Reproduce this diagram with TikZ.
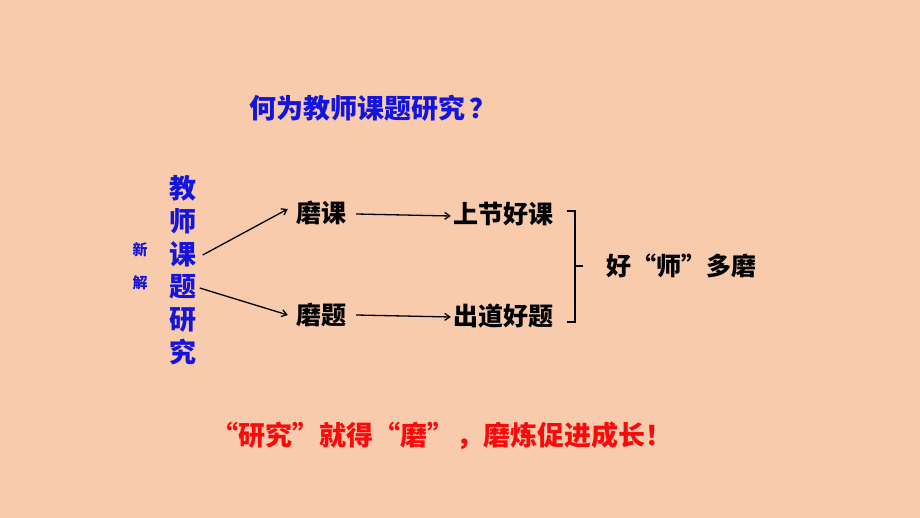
\documentclass[tikz,border=0pt]{standalone}
\usepackage{fontspec}
\setmainfont{Noto Sans CJK SC}
\usetikzlibrary{arrows.meta}
\definecolor{bg}{RGB}{248,203,173}
\definecolor{tblue}{RGB}{20,20,220}
\definecolor{tred}{RGB}{250,10,10}
\tikzset{
  blk/.style={font=\fontsize{25}{28}\selectfont\bfseries, text=black, inner sep=0pt},
  col/.style={font=\fontsize{27}{30}\selectfont\bfseries, text=tblue, inner sep=0pt},
  sml/.style={font=\fontsize{15}{18}\selectfont\bfseries, text=tblue, inner sep=0pt},
  arr/.style={-{Straight Barb[length=5pt,width=7pt]}, line width=1.3pt, black},
  brk/.style={line width=1.5pt, black}
}
\begin{document}
\begin{tikzpicture}[x=1pt,y=-1pt]
\fill[bg] (0,0) rectangle (920,518);
\useasboundingbox (0,0) rectangle (920,518);
\node[font=\fontsize{27}{30}\selectfont\bfseries, text=tblue, inner sep=0pt, anchor=west] (title) at (249,108) {何为教师课题研究\,？};
\node[sml] (x1) at (140,250) {新};
\node[sml] (x2) at (140,283) {解};
\node[col] (c1) at (183,188) {教};
\node[col] (c2) at (183,221) {师};
\node[col] (c3) at (183,254) {课};
\node[col] (c4) at (183,287) {题};
\node[col] (c5) at (183,320) {研};
\node[col] (c6) at (183,352) {究};
\node[blk] (mk) at (321,213) {磨课};
\node[blk] (mt) at (321,315) {磨题};
\node[blk] (sk) at (503,214) {上节好课};
\node[blk] (ct) at (503,316) {出道好题};
\node[blk] (hs) at (681,266) {好“师”多磨};
\node[font=\fontsize{27}{30}\selectfont\bfseries, text=tred, inner sep=0pt, anchor=west] (slogan) at (211,436) {“研究”就得“磨”\hspace{2pt}，磨炼促进成长！};
\draw[arr] ([xshift=6pt,yshift=-1pt]c3.east) -- ([xshift=-8pt,yshift=4pt]mk.west);
\draw[arr] ([xshift=3pt,yshift=-1pt]c4.east) -- ([xshift=-8pt]mt.west);
\draw[arr] ([xshift=10pt,yshift=-1pt]mk.east) -- ([xshift=-2pt,yshift=-2pt]sk.west);
\draw[arr] ([xshift=10pt]mt.east) -- ([xshift=-2pt,yshift=-1pt]ct.west);
\coordinate (bt) at (575,211);
\coordinate (bb) at (575,322);
\coordinate (bm) at (575,266);
\draw[brk] ([xshift=-8pt]bt) -- (bt) -- (bb) -- ([xshift=-8pt]bb);
\draw[brk] (bm) -- ([xshift=8pt]bm);
\end{tikzpicture}
\end{document}
